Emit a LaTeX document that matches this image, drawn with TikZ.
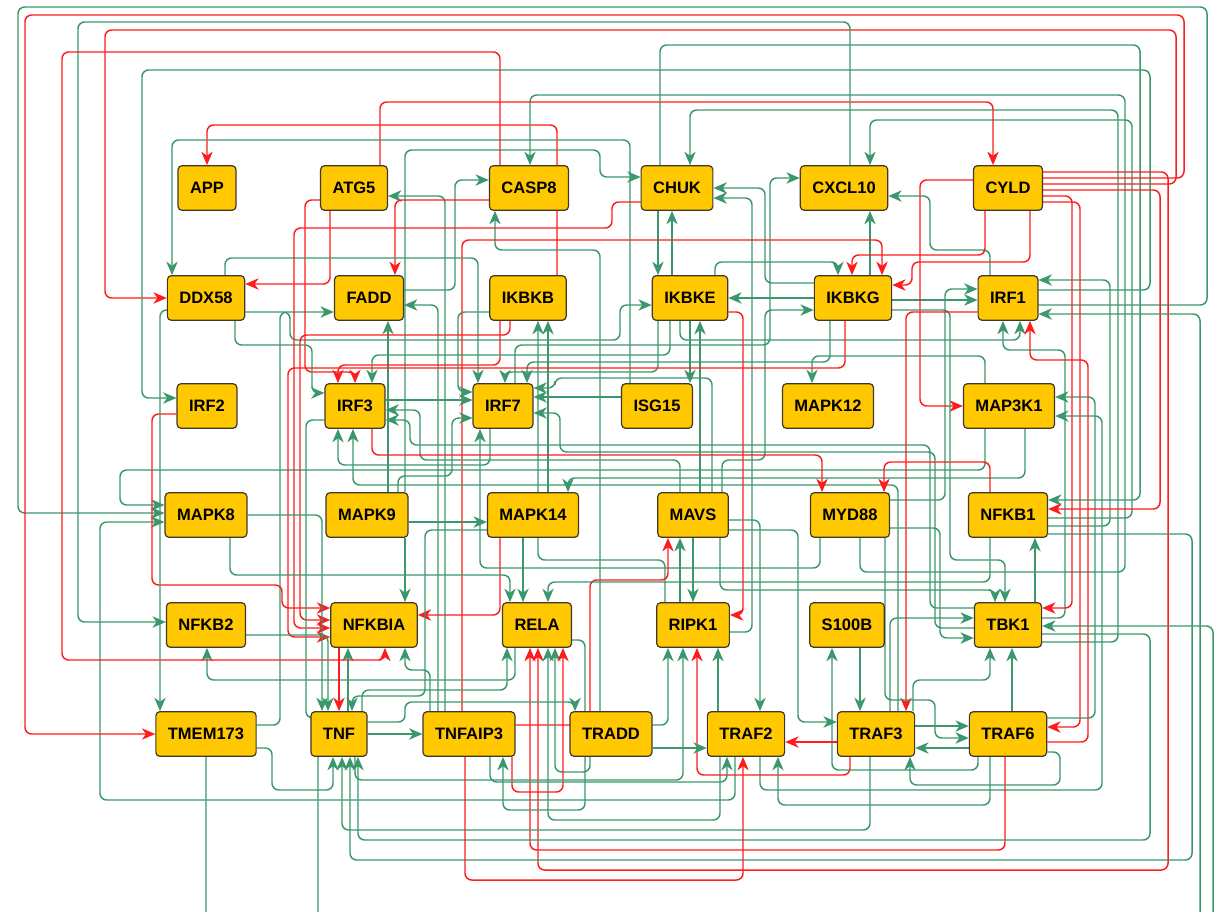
\documentclass[tikz,border=0pt]{standalone}
\usepackage{fontspec}
\setmainfont{Liberation Sans}
\usetikzlibrary{arrows.meta}

\definecolor{genefill}{RGB}{255,200,0}
\definecolor{genedraw}{RGB}{64,56,40}
\definecolor{actgreen}{RGB}{58,152,108}
\definecolor{inhred}{RGB}{255,28,28}

\pgfdeclarelayer{edges}
\pgfsetlayers{edges,main}

\tikzset{
  gene/.style={draw=genedraw, fill=genefill, line width=0.9pt, rounded corners=3pt,
    minimum height=33.5pt, inner xsep=9pt, font=\fontsize{12.4}{14}\selectfont\bfseries},
  link/.style={line width=1.1pt, rounded corners=5pt, -{Stealth[length=10pt,width=8.5pt,inset=3pt]}},
  act/.style={link, draw=actgreen},
  inh/.style={link, draw=inhred},
}

\begin{document}
\begin{tikzpicture}[x=0.75pt, y=-0.75pt]
  \useasboundingbox (0,0) rectangle (1220,911);

  % genes, six rows
  \node[gene] (APP) at (207,188) {APP};
  \node[gene] (ATG5) at (354,188) {ATG5};
  \node[gene] (CASP8) at (529,188) {CASP8};
  \node[gene] (CHUK) at (677,188) {CHUK};
  \node[gene] (CXCL10) at (844,188) {CXCL10};
  \node[gene] (CYLD) at (1008,188) {CYLD};

  \node[gene] (DDX58) at (206,298) {DDX58};
  \node[gene] (FADD) at (369,298) {FADD};
  \node[gene] (IKBKB) at (528,298) {IKBKB};
  \node[gene] (IKBKE) at (690,298) {IKBKE};
  \node[gene] (IKBKG) at (853,298) {IKBKG};
  \node[gene] (IRF1) at (1008,298) {IRF1};

  \node[gene] (IRF2) at (207,406) {IRF2};
  \node[gene] (IRF3) at (355,406) {IRF3};
  \node[gene] (IRF7) at (503,406) {IRF7};
  \node[gene] (ISG15) at (657,406) {ISG15};
  \node[gene] (MAPK12) at (828,406) {MAPK12};
  \node[gene] (MAP3K1) at (1009,406) {MAP3K1};

  \node[gene] (MAPK8) at (206,515) {MAPK8};
  \node[gene] (MAPK9) at (367,515) {MAPK9};
  \node[gene] (MAPK14) at (533,515) {MAPK14};
  \node[gene] (MAVS) at (693,515) {MAVS};
  \node[gene] (MYD88) at (850,515) {MYD88};
  \node[gene] (NFKB1) at (1008,515) {NFKB1};

  \node[gene] (NFKB2) at (206,625) {NFKB2};
  \node[gene] (NFKBIA) at (374,625) {NFKBIA};
  \node[gene] (RELA) at (537,625) {RELA};
  \node[gene] (RIPK1) at (693,625) {RIPK1};
  \node[gene] (S100B) at (847,625) {S100B};
  \node[gene] (TBK1) at (1008,625) {TBK1};

  \node[gene] (TMEM173) at (206,734) {TMEM173};
  \node[gene] (TNF) at (339,734) {TNF};
  \node[gene] (TNFAIP3) at (469,734) {TNFAIP3};
  \node[gene] (TRADD) at (611,734) {TRADD};
  \node[gene] (TRAF2) at (746,734) {TRAF2};
  \node[gene] (TRAF3) at (876,734) {TRAF3};
  \node[gene] (TRAF6) at (1008,734) {TRAF6};

  \begin{pgfonlayer}{edges}
  \fill[white] (0,0) rectangle (1220,911);
  \clip (0,0) rectangle (1220,911);

  % into the top row
  \draw[inh] (557,0 |- IKBKB.north) |- (207,125) -- (APP.north);
  \draw[act] (445,0 |- TNFAIP3.north) |- (ATG5.east |- 0,196);
  \draw[act] (FADD.east |- 0,290) -| (455,180) -- (CASP8.west |- 0,180);
  \draw[act] (600,0 |- TRADD.north) |- (495,250) -- (495,0 |- CASP8.south);
  \draw[act] (860,0 |- MYD88.south) |- (1125,572) |- (530,95) -- (530,0 |- CASP8.north);
  \draw[act] (405,0 |- MAPK9.north) |- (600,150) |- (CHUK.west |- 0,177);
  \draw[act] (TBK1.east |- 0,642) -| (1118,110) -| (690,0 |- CHUK.north);
  \draw[act] (IKBKG.west |- 0,283) -| (765,188) -- (CHUK.east |- 0,188);
  \draw[act] (RIPK1.east |- 0,632) -| (752,198) -- (CHUK.east |- 0,198);
  \draw[act] (672,0 |- IKBKE.north) -- (672,0 |- CHUK.south);
  \draw[act] (658,0 |- CHUK.south) -- (658,0 |- IKBKE.north);
  \draw[act] (NFKB1.east |- 0,518) -| (1132,120) -| (870,0 |- CXCL10.north);
  \draw[act] (515,0 |- IRF7.north) |- (770,345) |- (CXCL10.west |- 0,178);
  \draw[act] (990,0 |- IRF1.north) |- (930,250) |- (CXCL10.east |- 0,196);
  \draw[act] (870,0 |- IKBKG.north) -- (870,0 |- CXCL10.south);
  \draw[inh] (380,0 |- ATG5.north) |- (993,102) -- (993,0 |- CYLD.north);

  % into the second row
  \draw[inh] (CYLD.east |- 0,184) -| (1176,30) -| (105,298) -- (DDX58.west);
  \draw[inh] (330,0 |- ATG5.south) |- (DDX58.east |- 0,284);
  \draw[act] (630,0 |- ISG15.north) |- (172,140) -- (172,0 |- DDX58.north);
  \draw[inh] (CASP8.west |- 0,200) -| (395,0 |- FADD.north);
  \draw[act] (TMEM173.east |- 0,725) -| (280,312) -- (FADD.west |- 0,312);
  \draw[act] (438,0 |- TNFAIP3.north) |- (FADD.east |- 0,305);
  \draw[act] (388,0 |- MAPK9.north) -- (388,0 |- FADD.south);
  \draw[act] (548,0 |- MAPK14.north) -- (548,0 |- IKBKB.south);
  \draw[act] (665,0 |- RIPK1.north) |- (538,560) -- (538,0 |- IKBKB.south);
  \draw[act] (IKBKG.west |- 0,298) -- (IKBKE.east |- 0,298);
  \draw[act] (DDX58.east |- 0,312) -| (290,340) -| (620,305) -- (IKBKE.west |- 0,305);
  \draw[act] (700,0 |- MAVS.north) -- (700,0 |- IKBKE.south);
  \draw[inh] (985,0 |- CYLD.south) |- (852,255) -- (852,0 |- IKBKG.north);
  \draw[inh] (462,0 |- TNFAIP3.north) |- (882,240) -- (882,0 |- IKBKG.north);
  \draw[act] (715,0 |- IKBKE.north) |- (838,262) -- (838,0 |- IKBKG.north);
  \draw[inh] (1030,0 |- CYLD.south) |- (912,262) |- (IKBKG.east |- 0,285);
  \draw[act] (722,0 |- MAVS.north) |- (765,460) |- (IKBKG.west |- 0,310);
  \draw[act] (IKBKG.east |- 0,300) -- (IRF1.west |- 0,300);
  \draw[act] (MYD88.east |- 0,500) -| (945,289) -- (IRF1.west |- 0,289);
  \draw[act] (TBK1.east |- 0,618) -| (1065,350) -| (1003,0 |- IRF1.south);
  \draw[act] (680,0 |- IKBKE.south) |- (1020,340) -- (1020,0 |- IRF1.south);
  \draw[inh] (TRAF6.east |- 0,742) -| (1088,360) -| (1030,0 |- IRF1.south);
  \draw[act] (NFKB1.east |- 0,526) -| (1110,280) -- (IRF1.east |- 0,280);

  % into the third row
  \draw[act] (IRF1.east |- 0,290) -| (1150,70) -| (142,398) -- (IRF2.west |- 0,398);
  \draw[inh] (500,0 |- IKBKB.south) |- (338,365) -- (338,0 |- IRF3.north);
  \draw[inh] (ATG5.west |- 0,200) -| (305,372) -| (355,0 |- IRF3.north);
  \draw[act] (670,0 |- IKBKE.south) |- (372,355) -- (372,0 |- IRF3.north);
  \draw[act] (235,0 |- DDX58.south) |- (312,345) |- (IRF3.west |- 0,393);
  \draw[act] (680,0 |- MAVS.north) |- (420,460) |- (IRF3.east |- 0,410);
  \draw[act] (TBK1.west |- 0,608) -| (930,445) -| (410,420) -- (IRF3.east |- 0,420);
  \draw[act] (898,0 |- TRAF3.north) |- (353,485) -- (353,0 |- IRF3.south);
  \draw[act] (490,0 |- IRF7.south) |- (338,465) -- (338,0 |- IRF3.south);
  \draw[act] (IRF3.east |- 0,400) -- (IRF7.west |- 0,400);
  \draw[act] (225,0 |- DDX58.north) |- (478,258) -- (478,0 |- IRF7.north);
  \draw[act] (658,0 |- IKBKE.south) |- (505,372) -- (505,0 |- IRF7.north);
  \draw[act] (830,0 |- IKBKG.south) |- (527,362) -- (527,0 |- IRF7.north);
  \draw[act] (ISG15.west |- 0,397) -- (IRF7.east |- 0,397);
  \draw[act] (712,0 |- MAVS.north) |- (555,378) |- (IRF7.east |- 0,388);
  \draw[act] (TBK1.west |- 0,628) -| (935,452) -| (560,413) -- (IRF7.east |- 0,413);
  \draw[act] (IKBKB.west |- 0,312) -| (458,392) -- (IRF7.west |- 0,392);
  \draw[act] (398,0 |- MAPK9.north) |- (452,476) |- (IRF7.west |- 0,418);
  \draw[act] (820,0 |- MYD88.south) |- (480,568) -- (480,0 |- IRF7.south);
  \draw[act] (690,0 |- IKBKE.south) -- (690,0 |- ISG15.north);
  \draw[act] (985,0 |- MAP3K1.north) |- (812,356) -- (812,0 |- MAPK12.north);
  \draw[inh] (CYLD.west |- 0,180) -| (920,406) -- (MAP3K1.west |- 0,406);
  \draw[act] (TRAF6.east |- 0,718) -| (1095,397) -- (MAP3K1.east |- 0,397);
  \draw[act] (760,0 |- TRAF2.south) |- (1102,790) |- (MAP3K1.east |- 0,416);

  % into the fourth row
  \draw[act] (985,0 |- MAP3K1.south) |- (120,470) |- (MAPK8.west |- 0,505);
  \draw[act] (735,0 |- TRAF2.south) |- (100,800) |- (MAPK8.west |- 0,522);
  \draw[act] (IRF1.east |- 0,305) -| (1207,7) -| (18,513) -- (MAPK8.west |- 0,513);
  \draw[act] (MAPK9.east |- 0,522) -- (MAPK14.west |- 0,522);
  \draw[act] (1025,0 |- MAP3K1.south) |- (568,478) -- (568,0 |- MAPK14.north);
  \draw[inh] (TNFAIP3.east |- 0,725) -| (590,580) -| (668,0 |- MAVS.south);
  \draw[act] (680,0 |- RIPK1.north) -- (680,0 |- MAVS.south);
  \draw[inh] (372,0 |- IRF3.south) |- (822,455) -- (822,0 |- MYD88.north);
  \draw[inh] (990,0 |- NFKB1.north) |- (884,462) -- (884,0 |- MYD88.north);
  \draw[act] (1035,0 |- TBK1.north) -- (1035,0 |- NFKB1.south);
  \draw[act] (660,0 |- CHUK.north) |- (1140,45) |- (NFKB1.east |- 0,500);
  \draw[inh] (CYLD.east |- 0,190) -| (1160,509) -- (NFKB1.east |- 0,509);

  % into the fifth row
  \draw[act] (850,0 |- CXCL10.north) |- (78,22) |- (NFKB2.west |- 0,622);
  \draw[act] (515,0 |- RELA.south) |- (207,680) -- (207,0 |- NFKB2.south);
  \draw[inh] (IRF2.west |- 0,414) -| (152,585) -| (282,608) -- (NFKBIA.west |- 0,608);
  \draw[inh] (510,0 |- IKBKB.south) |- (300,335) |- (NFKBIA.west |- 0,620);
  \draw[inh] (CHUK.west |- 0,202) -| (612,228) -| (294,628) -- (NFKBIA.west |- 0,628);
  \draw[inh] (845,0 |- IKBKG.south) |- (288,368) |- (NFKBIA.west |- 0,637);
  \draw[inh] (500,0 |- MAPK14.south) |- (NFKBIA.east |- 0,615);
  \draw[act] (405,0 |- MAPK9.south) -- (405,0 |- NFKBIA.north);
  \draw[act] (348,0 |- TNF.north) -- (348,0 |- NFKBIA.south);
  \draw[inh] (500,0 |- CASP8.north) |- (62,52) |- (385,660) -- (385,0 |- NFKBIA.south);
  \draw[act] (430,0 |- TNFAIP3.north) |- (405,670) -- (405,0 |- NFKBIA.south);
  \draw[act] (523,0 |- MAPK14.south) -- (523,0 |- RELA.north);
  \draw[act] (990,0 |- NFKB1.south) |- (548,582) -- (548,0 |- RELA.north);
  \draw[act] (230,0 |- MAPK8.south) |- (510,575) -- (510,0 |- RELA.north);
  \draw[act] (362,0 |- TNF.north) |- (507,690) -- (507,0 |- RELA.south);
  \draw[inh] (1005,0 |- TRAF6.south) |- (530,850) -- (530,0 |- RELA.south);
  \draw[inh] (CYLD.east |- 0,172) -| (1168,870) -| (538,0 |- RELA.south);
  \draw[act] (720,0 |- TRAF2.south) |- (548,820) -- (548,0 |- RELA.south);
  \draw[act] (590,0 |- TRADD.south) |- (555,772) -- (555,0 |- RELA.south);
  \draw[inh] (512,0 |- TNFAIP3.south) |- (563,792) -- (563,0 |- RELA.south);
  \draw[act] (693,0 |- MAVS.south) -- (693,0 |- RIPK1.north);
  \draw[inh] (IKBKE.east |- 0,312) -| (743,615) -- (RIPK1.east |- 0,615);
  \draw[act] (TRADD.east |- 0,725) -| (668,0 |- RIPK1.south);
  \draw[act] (355,0 |- TNF.south) |- (683,780) -- (683,0 |- RIPK1.south);
  \draw[inh] (850,0 |- TRAF3.south) |- (697,775) -- (697,0 |- RIPK1.south);
  \draw[act] (718,0 |- TRAF2.north) -- (718,0 |- RIPK1.south);
  \draw[act] (978,0 |- TRAF6.south) |- (832,770) -- (832,0 |- S100B.south);
  \draw[act] (720,0 |- MAVS.south) |- (995,590) -- (995,0 |- TBK1.north);
  \draw[act] (IKBKG.east |- 0,310) -| (950,560) -| (1005,0 |- TBK1.north);
  \draw[act] (890,0 |- TRAF3.north) |- (TBK1.west |- 0,618);
  \draw[act] (MYD88.east |- 0,528) -| (940,638) -- (TBK1.west |- 0,638);
  \draw[inh] (CYLD.east |- 0,196) -| (1072,608) -- (TBK1.east |- 0,608);
  \draw[act] (206,0 |- TMEM173.south) |- (1213,925) |- (TBK1.east |- 0,626);
  \draw[act] (1012,0 |- TRAF6.north) -- (1012,0 |- TBK1.south);
  \draw[act] (913,0 |- TRAF3.north) |- (990,680) -- (990,0 |- TBK1.south);

  % into the bottom row
  \draw[inh] (CYLD.east |- 0,178) -| (1184,15) -| (25,734) -- (TMEM173.west);
  \draw[act] (DDX58.west |- 0,310) -| (160,0 |- TMEM173.north);
  \draw[act] (MAPK8.east |- 0,515) -| (322,0 |- TNF.north);
  \draw[act] (NFKB2.east |- 0,635) -| (328,0 |- TNF.north);
  \draw[inh] (339,0 |- NFKBIA.south) -- (339,0 |- TNF.north);
  \draw[act] (MAPK14.west |- 0,530) -| (425,696) -| (352,0 |- TNF.north);
  \draw[act] (IRF3.west |- 0,420) -| (306,718) -- (TNF.west |- 0,718);
  \draw[act] (TMEM173.east |- 0,748) -| (272,790) -| (333,0 |- TNF.south);
  \draw[act] (870,0 |- TRAF3.south) |- (342,830) -- (342,0 |- TNF.south);
  \draw[act] (NFKB1.east |- 0,534) -| (1192,860) -| (350,0 |- TNF.south);
  \draw[act] (TBK1.east |- 0,634) -| (1150,840) -| (358,0 |- TNF.south);
  \draw[act] (318,0 |- TNF.south) |- (1200,935) |- (IRF1.east |- 0,314);
  \draw[act] (TNF.east) -- (TNFAIP3.west);
  \draw[act] (RELA.east |- 0,640) -| (585,810) -| (503,0 |- TNFAIP3.south);
  \draw[act] (TNF.east |- 0,722) -| (405,702) -| (575,0 |- TRADD.north);
  \draw[act] (MAVS.east |- 0,520) -| (760,0 |- TRAF2.north);
  \draw[act] (TRADD.east |- 0,748) -- (TRAF2.west |- 0,748);
  \draw[inh] (TRAF3.west |- 0,742) -- (TRAF2.east |- 0,742);
  \draw[act] (490,0 |- TNFAIP3.south) |- (727,782) -- (727,0 |- TRAF2.south);
  \draw[inh] (465,0 |- TNFAIP3.south) |- (743,880) -- (743,0 |- TRAF2.south);
  \draw[act] (990,0 |- TRAF6.south) |- (778,805) -- (778,0 |- TRAF2.south);
  \draw[act] (860,0 |- S100B.south) -- (860,0 |- TRAF3.north);
  \draw[inh] (IRF1.west |- 0,312) -| (906,0 |- TRAF3.north);
  \draw[act] (MAVS.east |- 0,530) -| (798,722) -- (TRAF3.west |- 0,722);
  \draw[act] (TRAF6.west |- 0,748) -- (TRAF3.east |- 0,748);
  \draw[act] (TRAF6.east |- 0,752) -| (1060,785) -| (910,0 |- TRAF3.south);
  \draw[act] (TRAF3.east |- 0,726) -- (TRAF6.west |- 0,726);
  \draw[act] (885,0 |- MYD88.south) |- (935,700) |- (TRAF6.west |- 0,738);
  \draw[inh] (CYLD.east |- 0,202) -| (1080,727) -- (TRAF6.east |- 0,727);
  \end{pgfonlayer}
\end{tikzpicture}
\end{document}
